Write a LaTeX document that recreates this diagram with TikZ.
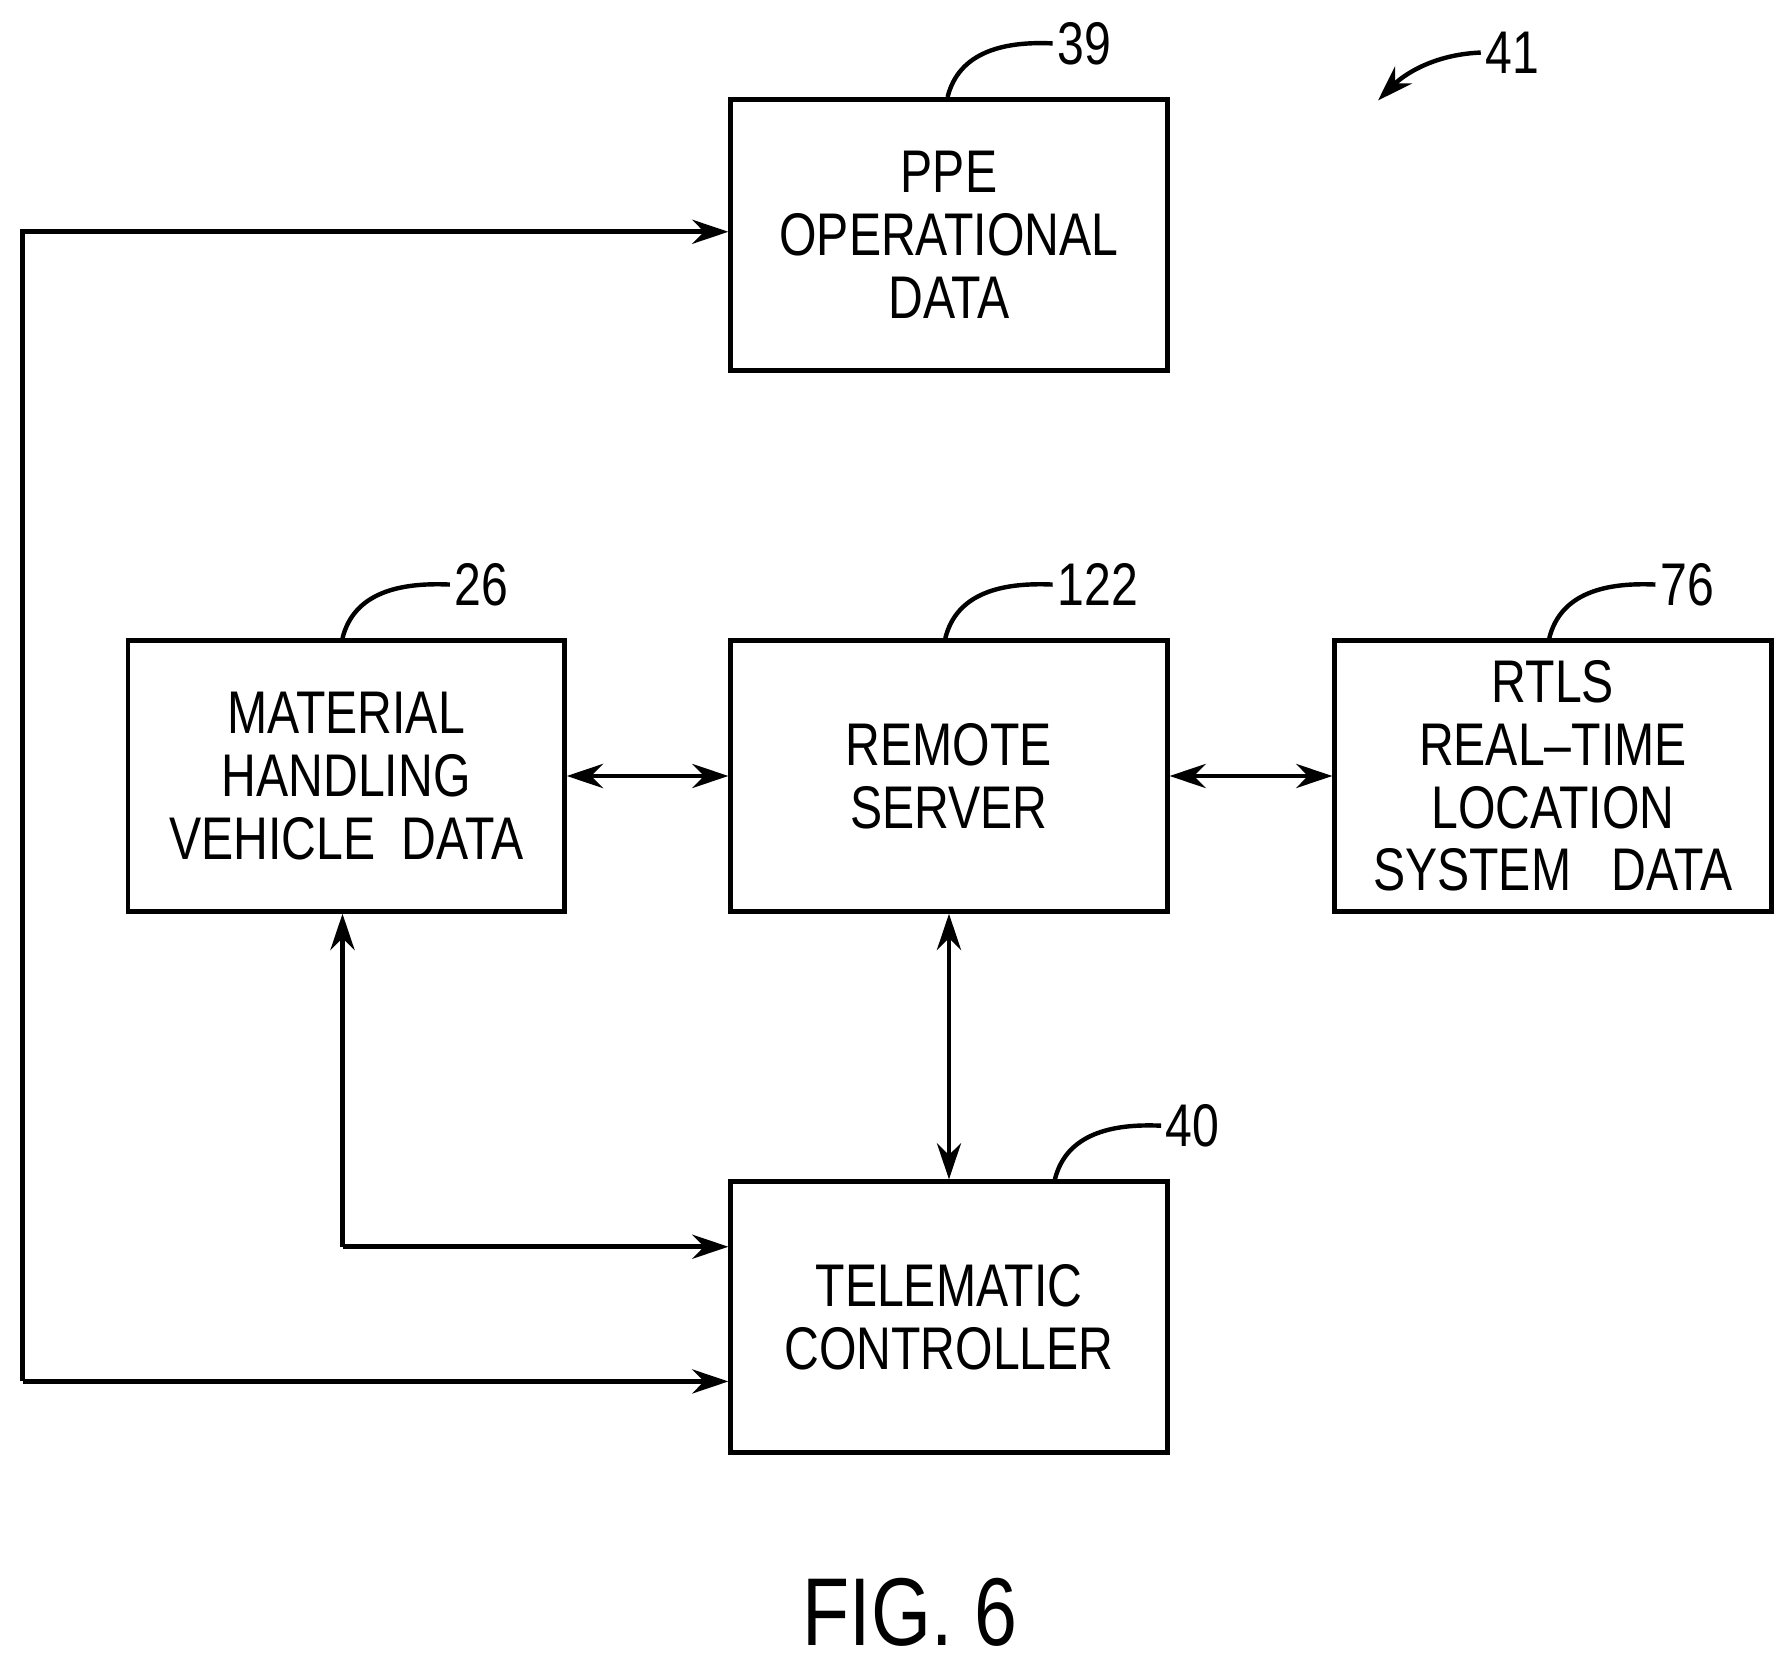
\documentclass[tikz,border=0pt]{standalone}
\usepackage{fontspec}
\setmainfont[FakeStretch=0.8]{Liberation Sans}
\usetikzlibrary{arrows.meta}
\begin{document}
\begin{tikzpicture}[x=0.01cm,y=-0.01cm,
  box/.style={draw,line width=1.2pt,minimum width=3.82cm,minimum height=2.37cm,anchor=north west,align=center,font=\fontsize{15}{15.6}\selectfont,inner sep=0pt},
  con/.style={line width=1.2pt},
  arr/.style={-{Stealth[length=9pt,width=6pt]}},
  barr/.style={{Stealth[length=9pt,width=6pt]}-{Stealth[length=9pt,width=6pt]}},
  lead/.style={line width=1.1pt},
  num/.style={font=\fontsize{15}{16}\selectfont,anchor=west,inner sep=1pt}]
\useasboundingbox (0,0) rectangle (1560,1459);
\node[box] (ppe) at (638,85) {PPE\\OPERATIONAL\\DATA};
\node[box] (mhv) at (110,559) {MATERIAL\\HANDLING\\VEHICLE\ \ DATA};
\node[box] (rs) at (638,559) {REMOTE\\SERVER};
\node[box] (rtls) at (1167,559) {RTLS\\REAL--TIME\\LOCATION\\SYSTEM\ \ \ DATA};
\node[box] (tc) at (638,1033) {TELEMATIC\\CONTROLLER};
\coordinate (l1) at (20,203);
\coordinate (l2) at (20,1210);
\coordinate (m1) at (300,1092);
\draw[con,barr] (mhv) -- (rs);
\draw[con,barr] (rs) -- (rtls);
\draw[con,barr] (rs) -- (tc);
\draw[con,arr] (l2) -- (l1) -- (ppe.west|-l1);
\draw[con,arr] (l2) -- (tc.west|-l2);
\draw[con,arr] (m1) -- (m1|-mhv.south);
\draw[con,arr] (m1) -- (tc.west|-m1);
\node[num] (n39) at (922,38) {39};
\node[num] (n26) at (394,512) {26};
\node[num] (n122) at (922,512) {122};
\node[num] (n76) at (1450,512) {76};
\node[num] (n40) at (1017,986) {40};
\node[num] (n41) at (1297,46) {41};
\draw[lead] (830,85) .. controls (840,45) and (880,36) .. (n39.west);
\draw[lead] (300,559) .. controls (310,519) and (350,510) .. (n26.west);
\draw[lead] (828,559) .. controls (838,519) and (878,510) .. (n122.west);
\draw[lead] (1357,559) .. controls (1367,519) and (1407,510) .. (n76.west);
\draw[lead] (924,1033) .. controls (934,993) and (974,984) .. (n40.west);
\draw[lead,arr] (n41.west) .. controls (1250,48) and (1225,70) .. (1207,88);
\node[font=\fontsize{24}{26}\selectfont] (fig) at (797,1412) {FIG. 6};
\end{tikzpicture}
\end{document}
